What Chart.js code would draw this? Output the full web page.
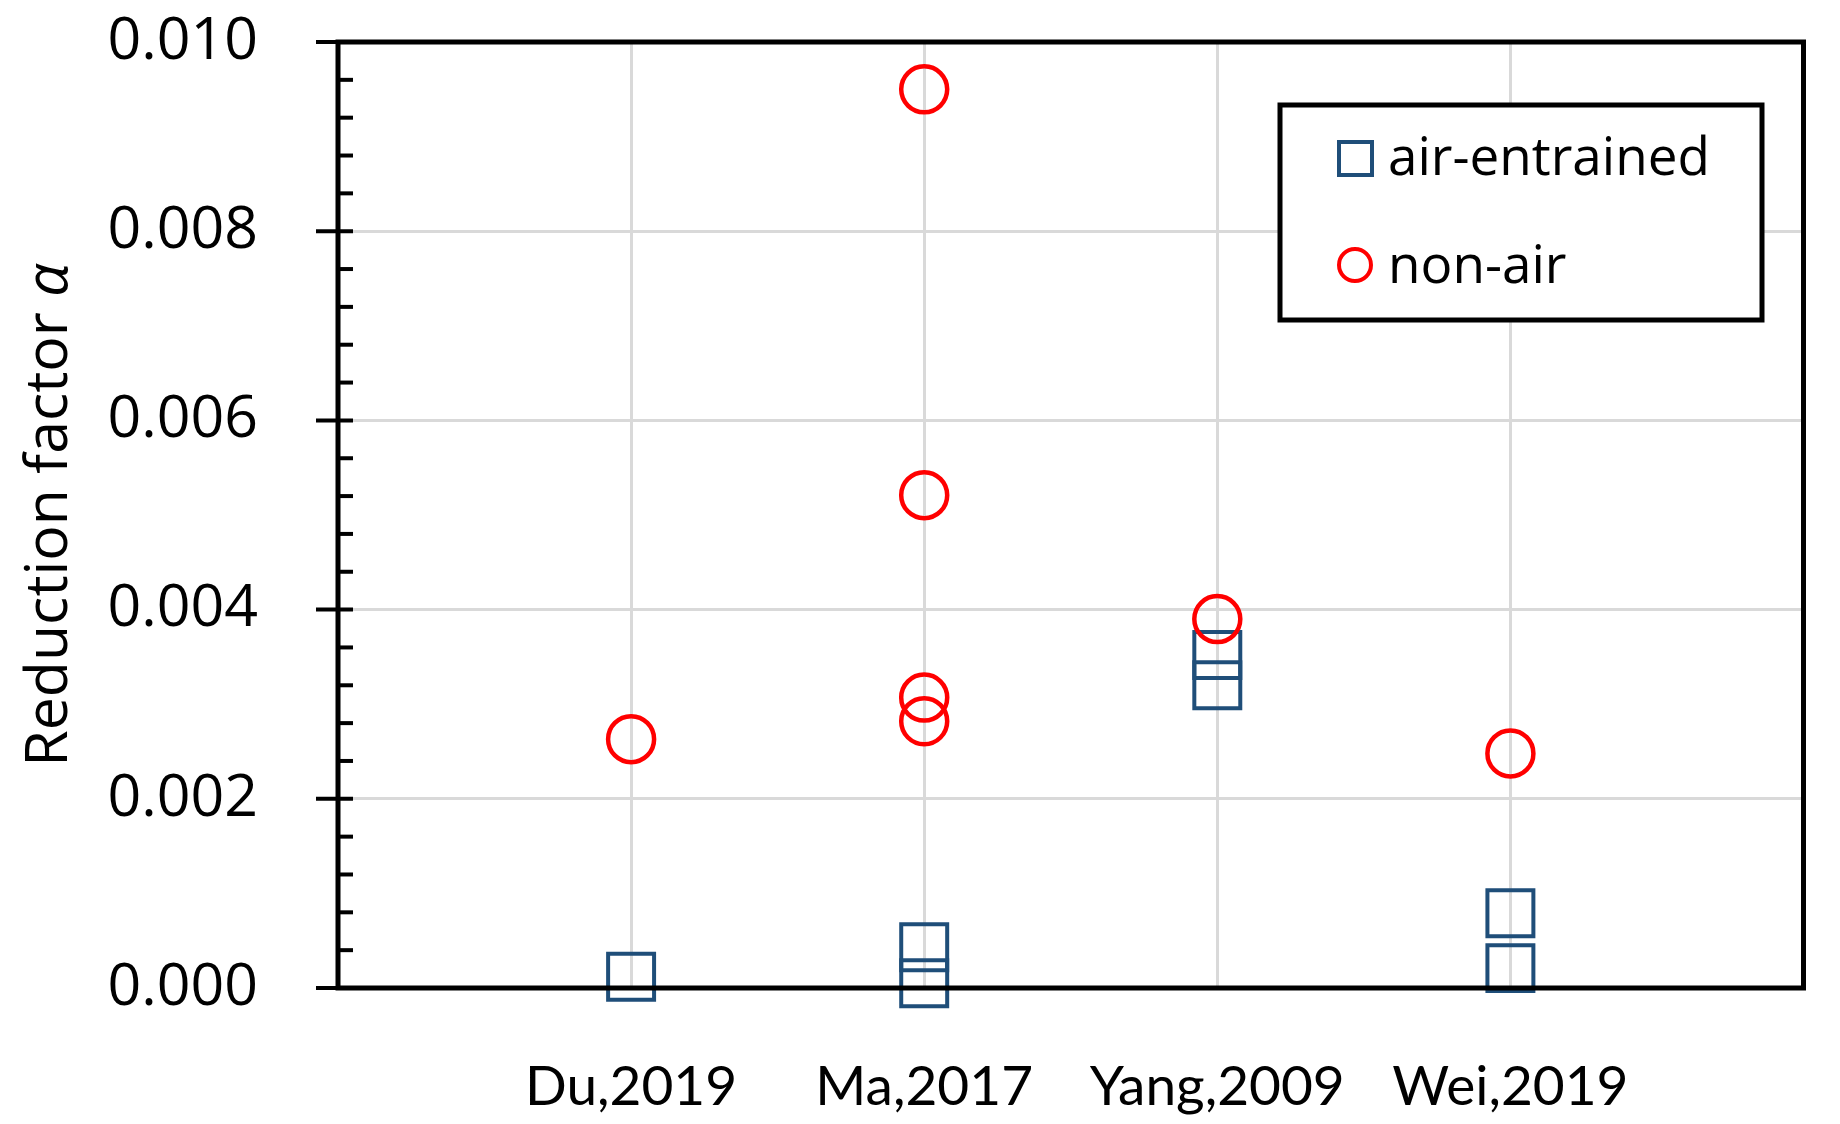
<!DOCTYPE html>
<html>
<head>
<meta charset="utf-8">
<script src="https://cdn.jsdelivr.net/npm/chart.js@4.4.0/dist/chart.umd.min.js"></script>
<style>
    body { margin: 0; background: #fff; }
    #wrap { width: 1840px; height: 1124px; }
</style>
</head>
<body>
<div id="wrap"><canvas id="chart"></canvas></div>
<script>
// categories sit at x = 1..4 on a 0..5 axis
const categories = ['Du,2019', 'Ma,2017', 'Yang,2009', 'Wei,2019'];
const airEntrained = [[0.00012], [0.00043, 0.00005], [0.00352, 0.00320], [0.00079, 0.00021]];
const nonAir = [[0.00263], [0.00950, 0.00521, 0.00307, 0.00282], [0.00390], [0.00248]];
const yTicks = [0, 0.002, 0.004, 0.006, 0.008, 0.010];
const minorStep = 0.0004;
const seriesNames = ['air-entrained', 'non-air'];

const toPoints = (groups) => groups.flatMap((vals, i) => vals.map(v => ({ x: i + 1, y: v })));

const blue = '#1f4e79';
const red = '#ff0000';

// black frame + y ticks (major cross the axis, minor inside)
const axisMarks = {
    id: 'axisMarks',
    afterDatasetsDraw(chart) {
        const { ctx, chartArea: a, scales: { y } } = chart;
        ctx.save();
        ctx.strokeStyle = '#000';
        ctx.lineWidth = 5;
        ctx.strokeRect(a.left, a.top, a.right - a.left, a.bottom - a.top);
        ctx.lineWidth = 4;
        const n = Math.round(yTicks[yTicks.length - 1] / minorStep);
        for (let i = 0; i <= n; i++) {
            const py = y.getPixelForValue(i * minorStep);
            const major = i % 5 === 0;
            ctx.beginPath();
            ctx.moveTo(a.left - (major ? 22 : 0), py);
            ctx.lineTo(a.left + 15, py);
            ctx.stroke();
        }
        ctx.restore();
    }
};

// y title with italic alpha
const yTitle = {
    id: 'yTitle',
    afterDraw(chart) {
        const { ctx, chartArea: a } = chart;
        const main = 'Reduction factor ';
        ctx.save();
        ctx.translate(50, (a.top + a.bottom) / 2);
        ctx.rotate(-Math.PI / 2);
        ctx.fillStyle = '#000';
        ctx.textBaseline = 'middle';
        ctx.textAlign = 'left';
        ctx.font = '59px "Open Sans"';
        const w1 = ctx.measureText(main).width;
        ctx.font = 'italic 59px "Open Sans"';
        const w2 = ctx.measureText('α').width;
        const x0 = -(w1 + w2) / 2;
        ctx.font = '59px "Open Sans"';
        ctx.fillText(main, x0, 0);
        ctx.font = 'italic 59px "Open Sans"';
        ctx.fillText('α', x0 + w1, 0);
        ctx.restore();
    }
};

// boxed legend in the upper right
const boxLegend = {
    id: 'boxLegend',
    afterDraw(chart) {
        const { ctx } = chart;
        ctx.save();
        ctx.fillStyle = '#fff';
        ctx.fillRect(1280, 105, 482, 215);
        ctx.strokeStyle = '#000';
        ctx.lineWidth = 5;
        ctx.strokeRect(1280, 105, 482, 215);

        ctx.lineWidth = 4;
        ctx.strokeStyle = blue;
        ctx.strokeRect(1339, 142, 33, 33);
        ctx.strokeStyle = red;
        ctx.beginPath();
        ctx.arc(1355, 265, 16, 0, Math.PI * 2);
        ctx.stroke();

        ctx.fillStyle = '#000';
        ctx.font = '53px "Open Sans"';
        ctx.textAlign = 'left';
        ctx.textBaseline = 'middle';
        ctx.fillText(seriesNames[0], 1388, 160);
        ctx.fillText(seriesNames[1], 1388, 268);
        ctx.restore();
    }
};

function makeChart() {
    const ctx = document.getElementById('chart').getContext('2d');
    new Chart(ctx, {
        type: 'scatter',
        data: {
            datasets: [{
                label: seriesNames[0],
                data: toPoints(airEntrained),
                pointStyle: 'rect',
                pointRadius: 32.5,
                pointHoverRadius: 32.5,
                borderColor: blue,
                backgroundColor: 'transparent',
                borderWidth: 4,
                order: 1,
                clip: false
            }, {
                label: seriesNames[1],
                data: toPoints(nonAir),
                pointStyle: 'circle',
                pointRadius: 23,
                pointHoverRadius: 23,
                borderColor: red,
                backgroundColor: 'transparent',
                borderWidth: 4.5,
                order: 0,
                clip: false
            }]
        },
        options: {
            responsive: true,
            maintainAspectRatio: false,
            animation: false,
            layout: { padding: { top: 42, right: 23, left: 0, bottom: 0 } },
            plugins: { legend: { display: false }, tooltip: { enabled: false } },
            scales: {
                x: {
                    type: 'linear',
                    min: 0,
                    max: categories.length + 1,
                    afterFit: s => { s.height = 136; },
                    afterBuildTicks: s => { s.ticks = categories.map((c, i) => ({ value: i + 1 })); },
                    border: { display: false },
                    grid: { color: '#d9d9d9', lineWidth: 3, drawTicks: true, tickLength: 66, tickColor: 'transparent' },
                    ticks: {
                        color: '#000',
                        padding: 0,
                        maxRotation: 0,
                        font: { family: 'Lato', size: 55 },
                        callback: v => categories[v - 1] || ''
                    }
                },
                y: {
                    min: 0,
                    max: yTicks[yTicks.length - 1],
                    afterFit: s => { s.width = 338; },
                    afterBuildTicks: s => { s.ticks = yTicks.map(v => ({ value: v })); },
                    border: { display: false },
                    grid: { color: '#d9d9d9', lineWidth: 3, drawTicks: true, tickLength: 80, tickColor: 'transparent' },
                    ticks: {
                        color: '#000',
                        padding: 0,
                        font: { family: 'Open Sans', size: 59 },
                        callback: v => v.toFixed(3)
                    }
                }
            }
        },
        plugins: [axisMarks, yTitle, boxLegend]
    });
}

Promise.all([
    document.fonts.load('59px "Open Sans"'),
    document.fonts.load('italic 59px "Open Sans"'),
    document.fonts.load('55px Lato')
]).then(makeChart, makeChart);
</script>
</body>
</html>
